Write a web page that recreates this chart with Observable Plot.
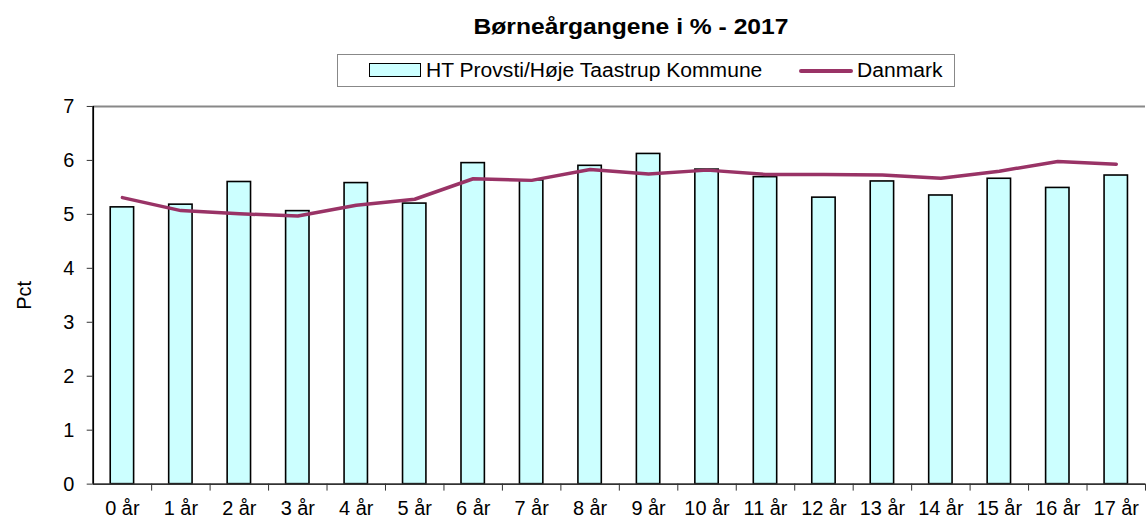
<!DOCTYPE html>
<html>
<head>
<meta charset="utf-8">
<script src="https://cdn.jsdelivr.net/npm/d3@7"></script>
<script src="https://cdn.jsdelivr.net/npm/@observablehq/plot@0.6"></script>
<style>
  html, body { margin: 0; padding: 0; background: #fff; overflow: hidden; }
  #wrap { position: relative; width: 1146px; height: 519px; overflow: hidden; font-family: "Liberation Sans", Arial, sans-serif; }
  #head { position: relative; height: 95px; }
  #title { position: absolute; left: 0; width: 1262px; top: 14px; text-align: center; font-weight: bold; font-size: 22px; color: #000; transform: scaleX(1.12); transform-origin: 631px 0; }
  #legend { position: absolute; left: 337px; top: 54px; width: 616px; height: 31px; border: 1px solid #888; box-sizing: content-box; }
  .sw-bar { position: absolute; left: 31px; top: 8px; width: 50px; height: 12px; background: #ccffff; border: 1.5px solid #000; }
  .sw-line { position: absolute; left: 461px; top: 14px; width: 54px; height: 3.5px; background: #993366; border-radius: 2px; }
  .lt { position: absolute; top: 4px; font-size: 19.5px; color: #000; white-space: nowrap; transform-origin: 0 0; transform: scaleX(1.08); }
  #chart { position: absolute; left: 0; top: 95px; }
</style>
</head>
<body>
<div id="wrap">
  <div id="head">
    <div id="title">Børneårgangene i % - 2017</div>
    <div id="legend">
      <div class="sw-bar"></div>
      <div class="lt" style="left:88px">HT Provsti/Høje Taastrup Kommune</div>
      <div class="sw-line"></div>
      <div class="lt" style="left:519px">Danmark</div>
    </div>
  </div>
  <div id="chart"></div>
</div>
<script>
const categories = ["0 år","1 år","2 år","3 år","4 år","5 år","6 år","7 år","8 år","9 år","10 år","11 år","12 år","13 år","14 år","15 år","16 år","17 år"];
const htValues = [5.13, 5.18, 5.60, 5.06, 5.58, 5.20, 5.95, 5.63, 5.90, 6.12, 5.83, 5.69, 5.31, 5.61, 5.35, 5.66, 5.49, 5.72];
const dkValues = [5.31, 5.07, 5.01, 4.97, 5.17, 5.28, 5.66, 5.63, 5.83, 5.75, 5.82, 5.74, 5.74, 5.73, 5.67, 5.80, 5.98, 5.93];
const yTicks = [0, 1, 2, 3, 4, 5, 6, 7];

const idx = categories.map((_, i) => i);
const bars = idx.map(i => ({i, v: htValues[i]}));
const line = idx.map(i => ({i, v: dkValues[i]}));
const half = 0.2;

const chart = Plot.plot({
  width: 1150,
  height: 424,
  marginLeft: 93,
  marginRight: 1,
  marginTop: 11,
  marginBottom: 34,
  style: { fontFamily: "'Liberation Sans', Arial, sans-serif", fontSize: "20px", color: "#000", background: "#fff", overflow: "visible" },
  x: { type: "linear", domain: [-0.5, categories.length - 0.5] },
  y: { domain: [0, 7] },
  marks: [
    Plot.ruleY([7], { stroke: "#888", strokeWidth: 2 }),
    Plot.rectY(bars, { x1: d => d.i - half, x2: d => d.i + half, y1: 0, y2: "v", fill: "#ccffff", stroke: "#000", strokeWidth: 1.6 }),
    Plot.lineY(line, { x: "i", y: "v", stroke: "#993366", strokeWidth: 3.5 }),
    Plot.ruleY([0], { stroke: "#333", strokeWidth: 1.8 }),
    Plot.ruleX([-0.5], { stroke: "#000", strokeWidth: 1.8 }),
    Plot.axisY({ ticks: yTicks, tickSize: 6, tickPadding: 13, tickFormat: d => String(d), label: "Pct", labelAnchor: "center", labelArrow: "none", labelOffset: 77, stroke: "#333" }),
    Plot.axisX({ ticks: idx.map(i => i + 0.5), tickSize: 7, tickFormat: () => "", stroke: "#333", label: null }),
    Plot.axisX({ ticks: idx, tickSize: 0, tickPadding: 17, tickFormat: i => categories[i], label: null })
  ]
});
document.getElementById("chart").appendChild(chart);
</script>
</body>
</html>
